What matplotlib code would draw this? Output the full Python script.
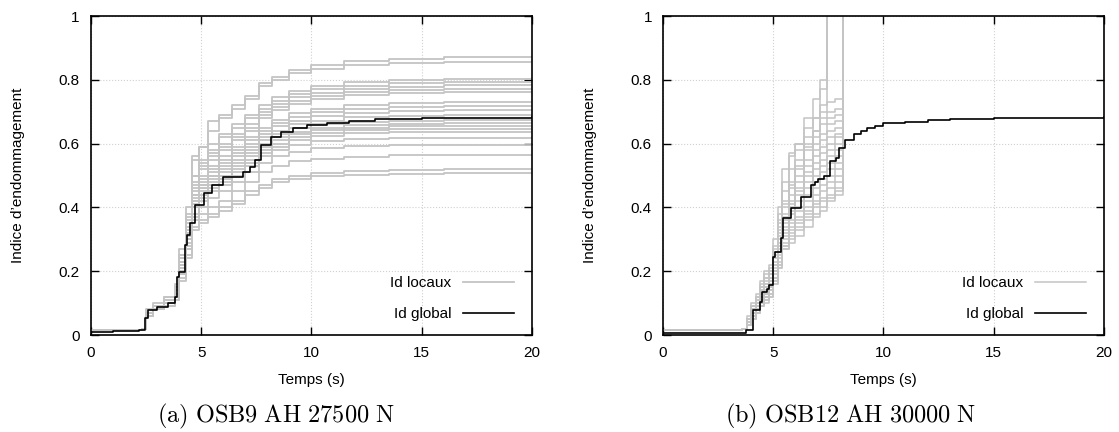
import matplotlib
matplotlib.use("Agg")
import matplotlib.pyplot as plt

plt.rcParams['font.family'] = ['Liberation Sans', 'DejaVu Sans']
plt.rcParams['mathtext.fontset'] = 'cm'

# ---------- panel (a) : OSB9 AH 27500 N ----------
t_a = [0, 2.3, 2.5, 2.8, 3.3, 3.8, 4.0, 4.3, 4.6, 4.9, 5.3, 5.8, 6.4, 7.0, 7.6,
       8.2, 9.0, 10.0, 11.5, 13.5, 16.0, 20.0]

local_a = [
    [0.015, 0.02, 0.07, 0.09, 0.11, 0.15, 0.25, 0.38, 0.55, 0.59, 0.67, 0.69, 0.72, 0.75, 0.79, 0.81, 0.83, 0.845, 0.858, 0.866, 0.870, 0.871],
    [0.015, 0.02, 0.08, 0.10, 0.12, 0.16, 0.27, 0.40, 0.56, 0.59, 0.64, 0.68, 0.71, 0.74, 0.78, 0.80, 0.82, 0.835, 0.846, 0.852, 0.856, 0.857],
    [0.015, 0.02, 0.07, 0.09, 0.11, 0.14, 0.24, 0.36, 0.50, 0.55, 0.60, 0.63, 0.66, 0.69, 0.72, 0.745, 0.765, 0.78, 0.793, 0.80, 0.804, 0.805],
    [0.015, 0.02, 0.07, 0.09, 0.12, 0.15, 0.25, 0.37, 0.50, 0.54, 0.58, 0.62, 0.65, 0.68, 0.71, 0.735, 0.755, 0.77, 0.782, 0.789, 0.793, 0.794],
    [0.015, 0.02, 0.06, 0.08, 0.10, 0.14, 0.23, 0.34, 0.48, 0.53, 0.57, 0.60, 0.63, 0.66, 0.70, 0.725, 0.745, 0.76, 0.772, 0.779, 0.783, 0.784],
    [0.015, 0.02, 0.07, 0.09, 0.11, 0.15, 0.24, 0.35, 0.47, 0.52, 0.56, 0.59, 0.62, 0.65, 0.69, 0.715, 0.735, 0.75, 0.762, 0.768, 0.772, 0.773],
    [0.015, 0.02, 0.06, 0.08, 0.10, 0.13, 0.22, 0.33, 0.46, 0.50, 0.55, 0.58, 0.61, 0.64, 0.68, 0.705, 0.725, 0.74, 0.752, 0.758, 0.762, 0.763],
    [0.015, 0.02, 0.07, 0.09, 0.11, 0.14, 0.23, 0.33, 0.45, 0.49, 0.53, 0.56, 0.59, 0.62, 0.65, 0.675, 0.695, 0.71, 0.72, 0.727, 0.730, 0.731],
    [0.015, 0.02, 0.06, 0.08, 0.10, 0.13, 0.22, 0.32, 0.44, 0.48, 0.52, 0.55, 0.58, 0.61, 0.64, 0.665, 0.685, 0.70, 0.709, 0.714, 0.717, 0.718],
    [0.015, 0.02, 0.07, 0.09, 0.11, 0.14, 0.23, 0.33, 0.44, 0.47, 0.51, 0.54, 0.57, 0.60, 0.63, 0.655, 0.672, 0.686, 0.696, 0.701, 0.704, 0.705],
    [0.015, 0.02, 0.06, 0.08, 0.10, 0.13, 0.21, 0.31, 0.42, 0.46, 0.50, 0.53, 0.56, 0.59, 0.62, 0.64, 0.66, 0.672, 0.682, 0.687, 0.689, 0.690],
    [0.015, 0.02, 0.07, 0.09, 0.11, 0.14, 0.22, 0.32, 0.43, 0.47, 0.50, 0.52, 0.55, 0.58, 0.61, 0.63, 0.648, 0.66, 0.668, 0.672, 0.674, 0.675],
    [0.015, 0.02, 0.06, 0.08, 0.10, 0.13, 0.21, 0.30, 0.41, 0.45, 0.49, 0.51, 0.54, 0.57, 0.60, 0.62, 0.638, 0.65, 0.658, 0.662, 0.664, 0.665],
    [0.015, 0.02, 0.07, 0.09, 0.11, 0.14, 0.22, 0.31, 0.42, 0.46, 0.48, 0.50, 0.53, 0.56, 0.59, 0.61, 0.63, 0.642, 0.65, 0.654, 0.655, 0.656],
    [0.015, 0.02, 0.06, 0.08, 0.10, 0.12, 0.20, 0.29, 0.40, 0.44, 0.47, 0.49, 0.52, 0.55, 0.58, 0.60, 0.62, 0.634, 0.642, 0.646, 0.647, 0.648],
    [0.015, 0.02, 0.07, 0.09, 0.11, 0.13, 0.21, 0.30, 0.40, 0.43, 0.46, 0.48, 0.51, 0.54, 0.57, 0.59, 0.61, 0.624, 0.632, 0.636, 0.637, 0.638],
    [0.015, 0.02, 0.06, 0.08, 0.10, 0.12, 0.20, 0.28, 0.38, 0.42, 0.45, 0.47, 0.50, 0.53, 0.56, 0.58, 0.595, 0.607, 0.614, 0.618, 0.619, 0.620],
    [0.015, 0.02, 0.06, 0.08, 0.10, 0.12, 0.19, 0.27, 0.37, 0.40, 0.43, 0.45, 0.48, 0.51, 0.54, 0.56, 0.575, 0.586, 0.592, 0.596, 0.597, 0.598],
    [0.015, 0.02, 0.06, 0.08, 0.10, 0.12, 0.19, 0.27, 0.36, 0.38, 0.40, 0.42, 0.45, 0.48, 0.51, 0.53, 0.545, 0.553, 0.559, 0.563, 0.564, 0.565],
    [0.015, 0.02, 0.06, 0.08, 0.09, 0.11, 0.18, 0.25, 0.34, 0.36, 0.38, 0.40, 0.42, 0.45, 0.47, 0.49, 0.50, 0.508, 0.514, 0.518, 0.519, 0.520],
    [0.015, 0.02, 0.06, 0.08, 0.09, 0.11, 0.17, 0.24, 0.33, 0.35, 0.37, 0.39, 0.41, 0.44, 0.46, 0.48, 0.49, 0.498, 0.503, 0.506, 0.507, 0.508],
]

glob_t_a = [0, 1.0, 2.2, 2.45, 2.6, 3.0, 3.5, 3.8, 3.88, 4.0, 4.26, 4.37, 4.5, 4.72, 5.13,
            5.5, 6.0, 6.9, 7.2, 7.42, 7.73, 8.15, 8.6, 9.15, 9.8, 10.7, 11.7, 12.9, 15.0, 20.0]
glob_a = [0.008, 0.012, 0.015, 0.053, 0.078, 0.089, 0.10, 0.12, 0.183, 0.198, 0.282, 0.313,
          0.35, 0.407, 0.445, 0.47, 0.496, 0.512, 0.528, 0.548, 0.596, 0.622, 0.637, 0.648,
          0.658, 0.666, 0.672, 0.676, 0.680, 0.682]

# ---------- panel (b) : OSB12 AH 30000 N ----------
# each local curve fails (jumps off the chart) at t_b[len(values)]
t_b = [0, 3.6, 3.8, 4.0, 4.2, 4.4, 4.6, 4.8, 5.0, 5.2, 5.4, 5.7, 6.0, 6.4, 6.8, 7.1,
       7.45, 7.8, 8.15]

local_b = [
    [0.015, 0.02, 0.06, 0.10, 0.13, 0.17, 0.20, 0.22, 0.30, 0.40, 0.52, 0.57, 0.60, 0.68, 0.74, 0.80],
    [0.015, 0.02, 0.05, 0.09, 0.12, 0.16, 0.19, 0.21, 0.28, 0.38, 0.48, 0.56, 0.60, 0.65, 0.68, 0.72, 0.73, 0.74],
    [0.015, 0.02, 0.05, 0.09, 0.12, 0.15, 0.18, 0.20, 0.27, 0.36, 0.45, 0.52, 0.58, 0.62, 0.68, 0.77],
    [0.015, 0.02, 0.04, 0.08, 0.11, 0.14, 0.17, 0.19, 0.26, 0.34, 0.42, 0.48, 0.55, 0.60, 0.64, 0.68, 0.70, 0.71],
    [0.015, 0.02, 0.05, 0.08, 0.11, 0.14, 0.16, 0.19, 0.25, 0.33, 0.40, 0.46, 0.52, 0.58, 0.62, 0.66, 0.68, 0.69],
    [0.015, 0.02, 0.04, 0.08, 0.10, 0.13, 0.16, 0.18, 0.24, 0.32, 0.38, 0.44, 0.50, 0.55, 0.60, 0.63, 0.66, 0.67],
    [0.015, 0.02, 0.05, 0.09, 0.12, 0.15, 0.18, 0.20, 0.26, 0.35, 0.41, 0.47, 0.53, 0.59, 0.64, 0.70],
    [0.015, 0.02, 0.04, 0.07, 0.10, 0.13, 0.15, 0.18, 0.23, 0.31, 0.37, 0.42, 0.48, 0.53, 0.58, 0.61, 0.64, 0.65],
    [0.015, 0.02, 0.04, 0.07, 0.10, 0.12, 0.15, 0.17, 0.22, 0.30, 0.36, 0.41, 0.46, 0.51, 0.56, 0.59, 0.62, 0.63],
    [0.015, 0.02, 0.05, 0.08, 0.10, 0.13, 0.15, 0.17, 0.22, 0.29, 0.35, 0.40, 0.45, 0.50, 0.54, 0.57, 0.60, 0.62],
    [0.015, 0.02, 0.04, 0.07, 0.09, 0.12, 0.14, 0.16, 0.21, 0.28, 0.34, 0.39, 0.44, 0.48, 0.52, 0.55, 0.58, 0.60],
    [0.015, 0.02, 0.04, 0.07, 0.09, 0.12, 0.14, 0.16, 0.20, 0.27, 0.33, 0.38, 0.42, 0.46, 0.50, 0.53, 0.56, 0.58],
    [0.015, 0.02, 0.04, 0.07, 0.09, 0.11, 0.13, 0.15, 0.20, 0.26, 0.32, 0.36, 0.40, 0.44, 0.48, 0.51, 0.54, 0.56],
    [0.015, 0.02, 0.04, 0.06, 0.08, 0.11, 0.13, 0.15, 0.19, 0.25, 0.31, 0.35, 0.39, 0.42, 0.46, 0.49, 0.52, 0.54],
    [0.015, 0.02, 0.03, 0.06, 0.08, 0.10, 0.12, 0.14, 0.18, 0.24, 0.30, 0.34, 0.37, 0.40, 0.44, 0.47, 0.50, 0.52],
    [0.015, 0.02, 0.04, 0.06, 0.08, 0.10, 0.12, 0.14, 0.18, 0.23, 0.29, 0.33, 0.36, 0.39, 0.42, 0.45, 0.48, 0.50],
    [0.015, 0.02, 0.03, 0.06, 0.08, 0.10, 0.12, 0.13, 0.17, 0.22, 0.28, 0.32, 0.35, 0.38, 0.41, 0.43, 0.46, 0.48],
    [0.015, 0.02, 0.03, 0.05, 0.07, 0.09, 0.11, 0.13, 0.17, 0.22, 0.28, 0.31, 0.34, 0.37, 0.40, 0.42, 0.44, 0.46],
    [0.015, 0.02, 0.03, 0.05, 0.07, 0.09, 0.11, 0.12, 0.16, 0.21, 0.27, 0.30, 0.33, 0.36, 0.38, 0.40, 0.43, 0.45],
    [0.015, 0.02, 0.03, 0.05, 0.07, 0.09, 0.10, 0.12, 0.16, 0.21, 0.27, 0.29, 0.31, 0.34, 0.37, 0.39, 0.42, 0.44],
]

glob_t_b = [0, 3.78, 4.08, 4.38, 4.5, 4.7, 4.8, 5.0, 5.1, 5.35, 5.45, 5.8, 6.25, 6.7, 6.9,
            7.05, 7.3, 7.56, 7.86, 8.0, 8.26, 8.67, 9.0, 9.25, 9.6, 10.0, 11.0, 12.0, 13.0,
            15.0, 20.0]
glob_b = [0.005, 0.015, 0.078, 0.104, 0.136, 0.145, 0.157, 0.245, 0.26, 0.303, 0.367, 0.398,
          0.434, 0.47, 0.48, 0.49, 0.50, 0.547, 0.555, 0.585, 0.612, 0.63, 0.64, 0.65, 0.655,
          0.664, 0.668, 0.673, 0.677, 0.680, 0.682]

captions = [r"$\mathrm{(a)\ OSB9\ AH\ 27500\ N}$", r"$\mathrm{(b)\ OSB12\ AH\ 30000\ N}$"]
caption_x = [276 / 1119, 851 / 1119]

grey = "#c4c4c4"
fig = plt.figure(figsize=(11.19, 4.32), dpi=100)
ax_a = fig.add_axes([0.0813, 0.2245, 0.394, 0.7384])
ax_b = fig.add_axes([0.5925, 0.2245, 0.394, 0.7384])

# panel a
for i, vals in enumerate(local_a):
    ax_a.plot(t_a, vals, drawstyle="steps-post", color=grey, lw=1.3,
              label="Id locaux" if i == 0 else None)
ax_a.plot(glob_t_a, glob_a, drawstyle="steps-post", color="black", lw=1.2, label="Id global")

# panel b
for i, vals in enumerate(local_b):
    n = len(vals)
    xs = t_b[:n] + [t_b[n], t_b[n]]
    ys = vals + [vals[-1], 1.3]
    ax_b.plot(xs, ys, drawstyle="steps-post", color=grey, lw=1.1,
              label="Id locaux" if i == 0 else None)
ax_b.plot(glob_t_b, glob_b, drawstyle="steps-post", color="black", lw=1.2, label="Id global")

for ax, cap, cx in zip([ax_a, ax_b], captions, caption_x):
    ax.set_xlim(0, 20)
    ax.set_ylim(0, 1)
    ax.set_xticks([0, 5, 10, 15, 20])
    ax.set_yticks([0, 0.2, 0.4, 0.6, 0.8, 1])
    ax.set_yticklabels(["0", "0.2", "0.4", "0.6", "0.8", "1"])
    ax.tick_params(direction="in", length=6, width=1, top=True, right=True,
                   labelsize=11, pad=8)
    for s in ax.spines.values():
        s.set_linewidth(1.2)
    ax.grid(True, linestyle=":", color="#d0d0d0", lw=0.8)
    ax.set_xlabel("Temps (s)", fontsize=11, labelpad=9)
    ax.set_ylabel("Indice d\u2019endommagement", fontsize=11, labelpad=24)
    ax.legend(loc="lower right", frameon=False, markerfirst=False, fontsize=11,
              handlelength=3.3, labelspacing=1.1, bbox_to_anchor=(0.99, 0.0))
    fig.text(cx, 1 - 416 / 432, cap, ha="center", va="center", fontsize=17.5)

fig.savefig("out.png", dpi=100)
